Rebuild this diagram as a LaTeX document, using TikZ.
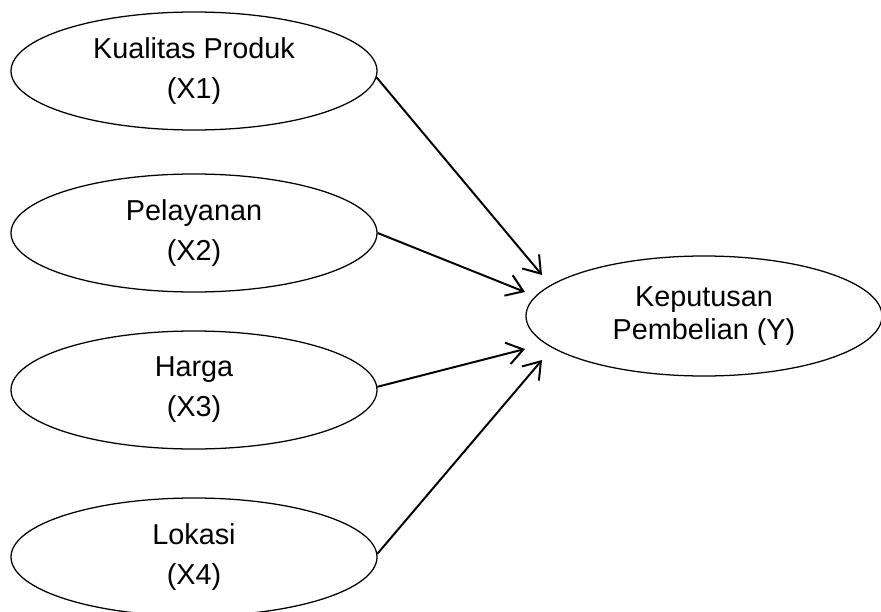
\documentclass[tikz,border=0pt]{standalone}
\usepackage{fontspec}
\setmainfont{Liberation Sans}
\usetikzlibrary{shapes.geometric}
\usetikzlibrary{positioning}
\usetikzlibrary{arrows.meta}
\tikzset{
construct/.style={ % Sets the properties for each variable
ellipse,
draw,
line width=0.9pt,
minimum width=9.15cm,
minimum height=2.95cm,
align=center,
font={\fontsize{20.5}{28.5}\selectfont}},
every edge/.style={ % Sets the properties for each path
draw,
-{Straight Barb[length=4mm,width=5.5mm]}, % Open arrow heads
line width=1.4pt}}

\begin{document}
\begin{tikzpicture}
	\useasboundingbox (0,0) rectangle (22.025,-15.3);
	\node[construct] (x1) at (4.85,-1.775) {Kualitas Produk\\(X1)};
	\node[construct] (x2) at (4.85,-5.825) {Pelayanan\\(X2)};
	\node[construct] (x3) at (4.85,-9.75) {Harga\\(X3)};
	\node[construct] (x4) at (4.85,-13.925) {Lokasi\\(X4)};
	\node[construct, minimum width=8.9cm, minimum height=3cm, font={\fontsize{20.5}{23.5}\selectfont}] (y) at (17.6,-7.9) {Keputusan\\Pembelian (Y)};
	\coordinate (y1) at (13.55,-6.875);
	\coordinate (y2) at (13.125,-7.3);
	\coordinate (y3) at (13.125,-8.725);
	\coordinate (y4) at (13.55,-9.0);
	\draw (x1.-2) edge (y1);
	\draw (x2.east) edge (y2);
	\draw (x3.1) edge (y3);
	\draw (x4.1) edge (y4);
\end{tikzpicture}
\end{document}
